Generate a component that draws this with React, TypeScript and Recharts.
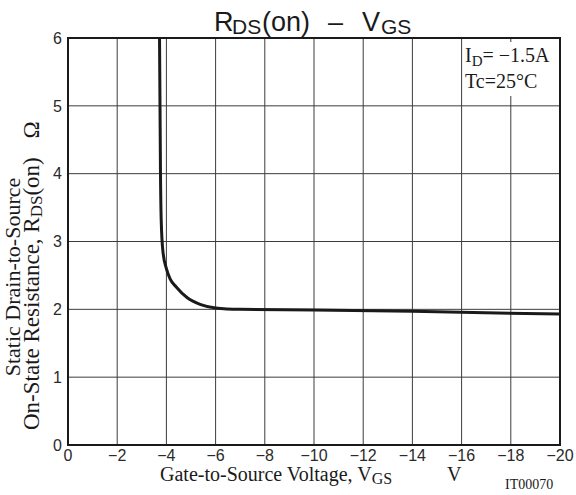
import React from "react";
import {
  LineChart,
  Line,
  XAxis,
  YAxis,
  CartesianGrid,
  ReferenceArea,
} from "recharts";

// RDS(on) vs VGS, ID = -1.5A, Tc = 25°C
const vgs = [-3.72, -3.74, -3.76, -3.79, -3.86, -4.0, -4.15, -4.4, -4.85, -5.4, -6.0, -7.0, -10, -14, -20];
const rds = [6.0, 5.0, 4.0, 3.3, 2.85, 2.6, 2.45, 2.33, 2.17, 2.07, 2.02, 2.0, 1.99, 1.97, 1.93];

const xTicks = [0, -2, -4, -6, -8, -10, -12, -14, -16, -18, -20];
const yTicks = [0, 1, 2, 3, 4, 5, 6];

const data = vgs.map((v, i) => ({ vgs: v, rds: rds[i] }));

const sans = "'Liberation Sans', Arial, sans-serif";
const serif = "'Liberation Serif', 'Times New Roman', serif";

const fmtX = (v: number) => (v === 0 ? "0" : `\u2212${Math.abs(v)}`);

export default function App() {
  const tick = { fill: "#2a2a2a", fontSize: 16, fontFamily: sans };

  return (
    <div style={{ position: "absolute", left: 0, top: 0, width: 576, height: 495, background: "#fff" }}>
      <LineChart
        width={576}
        height={495}
        data={data}
        margin={{ top: 38, right: 16, left: 38, bottom: 20 }}
      >
        <CartesianGrid stroke="#3c3c3c" strokeWidth={1} />
        <XAxis
          dataKey="vgs"
          type="number"
          domain={[-20, 0]}
          reversed
          ticks={xTicks}
          tickFormatter={fmtX}
          tick={tick}
          height={30}
          axisLine={false}
          tickLine={false}
          tickSize={4}
          tickMargin={1}
          interval={0}
        />
        <YAxis
          type="number"
          domain={[0, 6]}
          ticks={yTicks}
          tick={tick}
          width={30}
          axisLine={false}
          tickLine={false}
          tickSize={4}
          tickMargin={2}
          interval={0}
        />
        <ReferenceArea
          x1={-20}
          x2={0}
          y1={0}
          y2={6}
          fill="none"
          fillOpacity={0}
          stroke="#1a1a1a"
          strokeWidth={2}
          ifOverflow="visible"
        />
        <Line
          type="monotone"
          dataKey="rds"
          stroke="#1a1a1a"
          strokeWidth={3}
          dot={false}
          isAnimationActive={false}
        />
      </LineChart>

      <svg
        width={576}
        height={495}
        style={{ position: "absolute", left: 0, top: 0, pointerEvents: "none" }}
      >
        {/* title */}
        <g fill="#1a1a1a" fontFamily={sans}>
          <text x={214} y={31} fontSize={27}>R</text>
          <text x={232} y={34} fontSize={21}>DS</text>
          <text x={262} y={31} fontSize={27}>(on)</text>
          <text x={328} y={31} fontSize={27}>–</text>
          <text x={362} y={31} fontSize={27}>V</text>
          <text x={381} y={34} fontSize={21}>GS</text>
        </g>

        {/* conditions */}
        <rect x={463} y={42} width={95} height={54} fill="#fff" />
        <g fill="#1a1a1a" fontFamily={serif} fontSize={20}>
          <text x={465} y={62}>
            I<tspan fontSize={15} dy={4}>D</tspan>
            <tspan dy={-4}>= −1.5A</tspan>
          </text>
          <text x={465} y={88}>Tc=25°C</text>
        </g>

        {/* y label */}
        <g fill="#1a1a1a" fontFamily={serif} fontSize={22}>
          <text x={20} y={277} textAnchor="middle" transform="rotate(-90 20 277)">Static Drain-to-Source</text>
          <text x={39} y={430} fontSize={23} transform="rotate(-90 39 430)">
            On-State Resistance, R<tspan fontSize={17} dy={3}>DS</tspan>
            <tspan dy={-3}>(on)</tspan>
          </text>
          <text x={39} y={130} fontSize={23} textAnchor="middle" transform="rotate(-90 39 130)">Ω</text>
        </g>

        {/* x label */}
        <g fill="#1a1a1a" fontFamily={serif} fontSize={20}>
          <text x={160} y={481}>
            Gate-to-Source Voltage, V<tspan fontSize={16} dy={3}>GS</tspan>
          </text>
          <text x={447} y={481}>V</text>
          <text x={505} y={489} fontSize={14}>IT00070</text>
        </g>
      </svg>
    </div>
  );
}
